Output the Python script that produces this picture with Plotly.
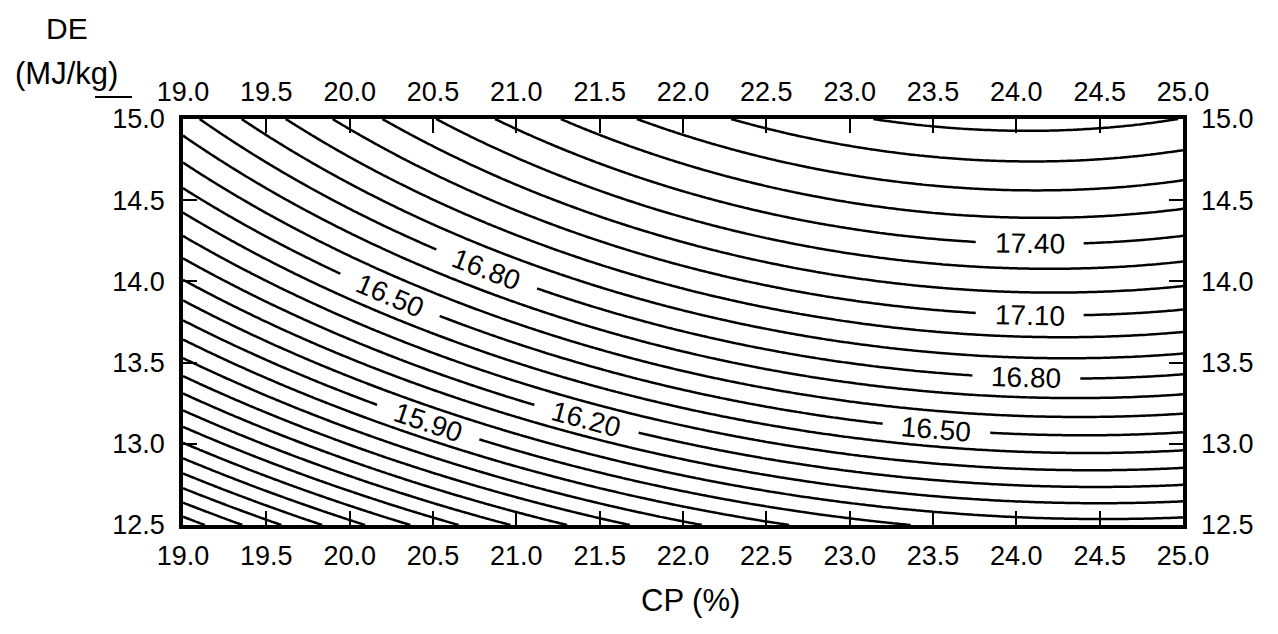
import numpy as np
import plotly.graph_objects as go

# ---- response surface: predicted value as a function of CP (%) and DE (MJ/kg) ----
# z = sum(COEF[i] * TERM_i(u, v)),  u = CP - CP_CENTER,  v = DE - DE_CENTER
CP_CENTER = 22.0
DE_CENTER = 13.75
TERM_NAMES = ["1", "u", "v", "u2", "uv", "v2", "u2v", "uv2", "u3", "v3"]
COEF = [16.845, 0.19663, 0.77671, -0.041857, -0.018207, -0.11596,
        0.00024904, 0.0022741, -0.00048396, 0.0090008]

# contour levels and the labelled ones (CP position of each label)
LEVEL_START, LEVEL_END, LEVEL_STEP = 14.0, 18.0, 0.1
LABEL_LEVEL = [16.8, 16.5, 15.9, 16.2, 16.5, 16.8, 17.1, 17.4]
LABEL_CP = [20.82, 20.24, 20.47, 21.42, 23.52, 24.06, 24.08, 24.08]

X_TICKS = [19.0, 19.5, 20.0, 20.5, 21.0, 21.5, 22.0, 22.5, 23.0, 23.5, 24.0, 24.5, 25.0]
Y_TICKS = [12.5, 13.0, 13.5, 14.0, 14.5, 15.0]


def model(cp, de):
    u = np.asarray(cp, dtype=float) - CP_CENTER
    v = np.asarray(de, dtype=float) - DE_CENTER
    basis = [np.ones_like(u), u, v, u * u, u * v, v * v, u * u * v, u * v * v, u ** 3, v ** 3]
    return sum(c * b for c, b in zip(COEF, basis))


gx = np.linspace(X_TICKS[0], X_TICKS[-1], 301)
gy = np.linspace(Y_TICKS[0], Y_TICKS[-1], 151)
GX, GY = np.meshgrid(gx, gy)
GZ = model(GX, GY)

# plot-area geometry (pixels)
L, R, T, B = 183, 95, 119, 109
W, H = 1278, 634
PW, PH = W - L - R, H - T - B
SX = PW / (X_TICKS[-1] - X_TICKS[0])
SY = PH / (Y_TICKS[-1] - Y_TICKS[0])


def de_on_level(cp, level):
    lo, hi = 12.0, 15.5
    for _ in range(60):
        mid = 0.5 * (lo + hi)
        if model(cp, mid) < level:
            lo = mid
        else:
            hi = mid
    return 0.5 * (lo + hi)


fig = go.Figure()
fig.add_trace(go.Contour(
    x=gx, y=gy, z=GZ,
    contours=dict(start=LEVEL_START, end=LEVEL_END, size=LEVEL_STEP,
                  coloring="lines", showlabels=False),
    colorscale=[[0, "black"], [1, "black"]], showscale=False,
    line=dict(width=2.5), hoverinfo="skip",
))
# carrier trace for the mirrored (top / right) axes
fig.add_trace(go.Scatter(x=[X_TICKS[0], X_TICKS[-1]], y=[Y_TICKS[0], Y_TICKS[-1]],
                         xaxis="x2", yaxis="y2", mode="markers",
                         marker=dict(opacity=0), hoverinfo="skip", showlegend=False))

FONT = "Liberation Sans, Arial, Helvetica, sans-serif"
shapes, annotations = [], []
HALF_GAP = 54
for cp, lvl in zip(LABEL_CP, LABEL_LEVEL):
    de = de_on_level(cp, lvl)
    # walk along the contour to find both ends of the gap left for the label
    ends = []
    for sgn in (-1, 1):
        h = 0.3
        for _ in range(30):
            x2 = cp + sgn * h
            y2 = de_on_level(x2, lvl)
            d = np.hypot((x2 - cp) * SX, (y2 - de) * SY)
            h *= HALF_GAP / d
        ends.append((cp + sgn * h, de_on_level(cp + sgn * h, lvl)))
    (xa, ya), (xb, yb) = ends
    ang = np.degrees(np.arctan2(-(yb - ya) * SY, (xb - xa) * SX))
    shapes.append(dict(type="line", xref="x", yref="y", x0=xa, y0=ya, x1=xb, y1=yb,
                       line=dict(color="white", width=9), layer="above"))
    annotations.append(dict(x=cp, y=de, xref="x", yref="y", text=f"{lvl:.2f}",
                            showarrow=False, textangle=ang,
                            font=dict(family=FONT, size=28, color="black")))


def px_to_paper(px, py):
    return (px - L) / PW, (H - B - py) / PH


for txt, (px, py), size in [("DE", (67, 28), 30), ("(MJ/kg)", (66, 73), 31),
                            ("CP (%)", (690, 600), 31)]:
    xp, yp = px_to_paper(px, py)
    annotations.append(dict(x=xp, y=yp, xref="paper", yref="paper", text=txt,
                            showarrow=False, xanchor="center", yanchor="middle",
                            font=dict(family=FONT, size=size, color="black")))

xa0, ya0 = px_to_paper(95, 97)
xa1, _ = px_to_paper(132, 97)
shapes.append(dict(type="line", xref="paper", yref="paper", x0=xa0, y0=ya0, x1=xa1, y1=ya0,
                   line=dict(color="black", width=2)))


def tick_style(standoff):
    return dict(ticks="inside", ticklen=14, tickwidth=1.5, tickcolor="black",
                showgrid=False, zeroline=False, tickformat=".1f",
                tickfont=dict(family=FONT, size=27, color="black"),
                ticklabelstandoff=standoff)


x_range = [X_TICKS[0], X_TICKS[-1]]
y_range = [Y_TICKS[0], Y_TICKS[-1]]
fig.update_layout(
    width=W, height=H, autosize=False,
    margin=dict(l=L, r=R, t=T, b=B),
    paper_bgcolor="white", plot_bgcolor="white", showlegend=False,
    xaxis=dict(range=x_range, tickvals=X_TICKS, showline=True, linewidth=3.5,
               linecolor="black", mirror=True, **tick_style(4)),
    xaxis2=dict(range=x_range, tickvals=X_TICKS, overlaying="x", side="top",
                anchor="y", showline=False, **tick_style(12)),
    yaxis=dict(range=y_range, tickvals=Y_TICKS, showline=True, linewidth=3.5,
               linecolor="black", mirror=True, **tick_style(9)),
    yaxis2=dict(range=y_range, tickvals=Y_TICKS, overlaying="y", side="right",
                anchor="x", showline=False, **tick_style(17)),
    shapes=shapes, annotations=annotations,
)

fig.write_html("out.html")
